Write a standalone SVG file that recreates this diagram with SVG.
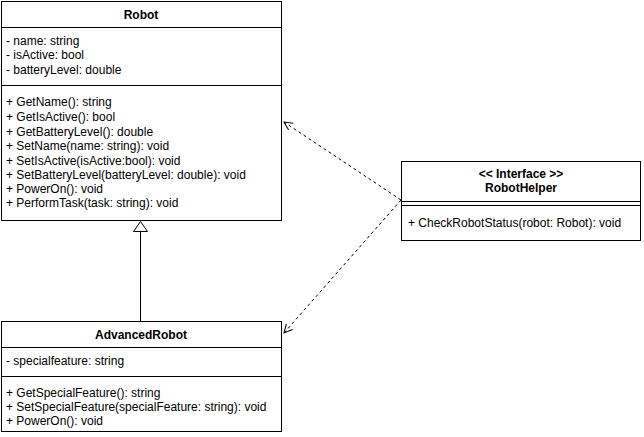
<svg xmlns="http://www.w3.org/2000/svg" width="644" height="437" viewBox="0 0 644 437">
<defs>
<style>
.box{fill:#fff;stroke:#000;stroke-width:1}
.ln{stroke:#000;stroke-width:1;fill:none}
text{font-family:"Liberation Sans",Arial,Helvetica,sans-serif;font-size:12px;fill:#000}
.t{font-weight:bold;text-anchor:middle}
.dash{stroke:#000;stroke-width:1;fill:none;stroke-dasharray:3 3}
</style>
<marker id="open" viewBox="0 0 12 12" refX="11" refY="6" markerWidth="10" markerHeight="10" markerUnits="userSpaceOnUse" orient="auto">
<path d="M1,1 L11,6 L1,11" fill="none" stroke="#000" stroke-width="1.2"/>
</marker>
</defs>
<rect width="644" height="437" fill="#fff"/>
<g id="connectors">
<line class="ln" x1="140.5" y1="231" x2="140.5" y2="321"/>
<path d="M140.5,221.5 L133.5,231.5 L147.5,231.5 Z" fill="#fff" stroke="#000"/>
<line class="dash" x1="401" y1="200" x2="284" y2="122" marker-end="url(#open)"/>
<line class="dash" x1="401" y1="200" x2="284" y2="333" marker-end="url(#open)"/>
</g>
<g id="Robot">
<rect class="box" x="1.5" y="1.5" width="280" height="219"/>
<line class="ln" x1="1.5" y1="27.5" x2="281.5" y2="27.5"/>
<line class="ln" x1="1.5" y1="85.5" x2="281.5" y2="85.5"/>
<text class="t" x="141" y="19">Robot</text>
<text x="6" y="45">- name: string</text>
<text x="6" y="59">- isActive: bool</text>
<text x="6" y="74">- batteryLevel: double</text>
<text x="6" y="106">+ GetName(): string</text>
<text x="6" y="121">+ GetIsActive(): bool</text>
<text x="6" y="136">+ GetBatteryLevel(): double</text>
<text x="6" y="150">+ SetName(name: string): void</text>
<text x="6" y="165">+ SetIsActive(isActive:bool): void</text>
<text x="6" y="179">+ SetBatteryLevel(batteryLevel: double): void</text>
<text x="6" y="193">+ PowerOn(): void</text>
<text x="6" y="207">+ PerformTask(task: string): void</text>
</g>
<g id="AdvancedRobot">
<rect class="box" x="1.5" y="321.5" width="280" height="110"/>
<line class="ln" x1="1.5" y1="347.5" x2="281.5" y2="347.5"/>
<line class="ln" x1="1.5" y1="376.5" x2="281.5" y2="376.5"/>
<text class="t" x="141" y="339">AdvancedRobot</text>
<text x="6" y="365">- specialfeature: string</text>
<text x="6" y="397">+ GetSpecialFeature(): string</text>
<text x="6" y="411">+ SetSpecialFeature(specialFeature: string): void</text>
<text x="6" y="425">+ PowerOn(): void</text>
</g>
<g id="RobotHelper">
<rect class="box" x="401.5" y="161.5" width="239" height="79"/>
<line class="ln" x1="401.5" y1="201.5" x2="640.5" y2="201.5"/>
<line class="ln" x1="401.5" y1="205.5" x2="640.5" y2="205.5"/>
<text class="t" x="521" y="178">&lt;&lt; Interface &gt;&gt;</text>
<text class="t" x="521" y="192">RobotHelper</text>
<text x="408" y="227">+ CheckRobotStatus(robot: Robot): void</text>
</g>
</svg>
